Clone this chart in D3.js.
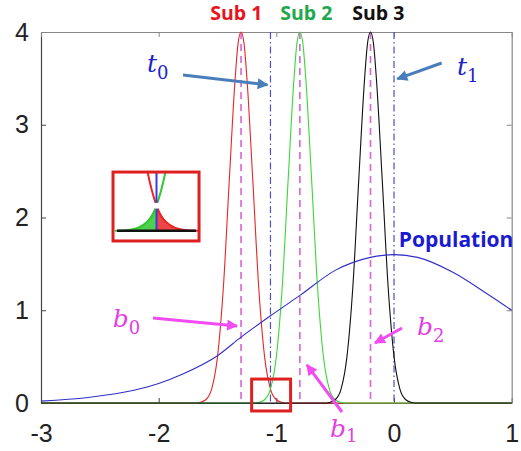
<!DOCTYPE html>
<html>
<head>
<meta charset="utf-8">
<script src="https://cdn.jsdelivr.net/npm/d3@7"></script>
<style>
  body { margin: 0; background: #fff; }
  .tick text { font-family: "Liberation Sans", Arial, sans-serif; font-size: 25px; fill: #222; }
</style>
</head>
<body>
<div id="chart"></div>
<script>
// values
var xTicks = [-3, -2, -1, 0, 1];
var yTicks = [0, 1, 2, 3, 4];

var sub1X = [-3, -1.75, -1.7, -1.65, -1.6, -1.55, -1.5, -1.45, -1.4, -1.35, -1.325, -1.3, -1.275, -1.25, -1.2, -1.15, -1.1, -1.05, -1.0, -0.95, -0.9, -0.85, 1];
var sub1Y = [0, 0, 0, 0.006, 0.035, 0.15, 0.5, 1.25, 2.4, 3.5, 3.88, 4.0, 3.88, 3.5, 2.4, 1.25, 0.5, 0.15, 0.035, 0.006, 0, 0, 0];
var sub2X = [-3, -1.25, -1.2, -1.15, -1.1, -1.05, -1.0, -0.95, -0.9, -0.85, -0.825, -0.8, -0.775, -0.75, -0.7, -0.65, -0.6, -0.55, -0.5, -0.45, -0.4, -0.35, 1];
var sub2Y = [0, 0, 0, 0.006, 0.035, 0.15, 0.5, 1.25, 2.4, 3.5, 3.88, 4.0, 3.88, 3.5, 2.4, 1.25, 0.5, 0.15, 0.035, 0.006, 0, 0, 0];
var sub3X = [-3, -0.65, -0.6, -0.55, -0.5, -0.45, -0.4, -0.35, -0.3, -0.25, -0.225, -0.2, -0.175, -0.15, -0.1, -0.05, 0, 0.05, 0.1, 0.15, 0.2, 0.25, 1];
var sub3Y = [0, 0, 0, 0.006, 0.035, 0.15, 0.5, 1.25, 2.4, 3.5, 3.88, 4.0, 3.88, 3.5, 2.4, 1.25, 0.5, 0.15, 0.035, 0.006, 0, 0, 0];

var popX = [-3, -2.6, -2.2, -2.0, -1.8, -1.5, -1.3, -1.05, -0.8, -0.5, -0.2, 0, 0.2, 0.5, 0.8, 1.0];
var popY = [0.02, 0.06, 0.14, 0.21, 0.31, 0.51, 0.71, 0.94, 1.16, 1.43, 1.57, 1.60, 1.57, 1.41, 1.17, 1.00];

var bLines = [-1.3, -0.8, -0.2];   // b0, b1, b2
var tLines = [-1.05, 0];           // t0, t1
var subNames = ["Sub 1", "Sub 2", "Sub 3"];

var width = 521, height = 451;

var x = d3.scaleLinear().domain([-3, 1]).range([41, 511.7]);
var y = d3.scaleLinear().domain([0, 4]).range([403, 32]);

var svg = d3.select("#chart").append("svg")
    .attr("width", width)
    .attr("height", height);

var defs = svg.append("defs");
function marker(id, color) {
    defs.append("marker")
        .attr("id", id)
        .attr("viewBox", "0 0 10 10")
        .attr("refX", 9).attr("refY", 5)
        .attr("markerUnits", "userSpaceOnUse")
        .attr("markerWidth", 13).attr("markerHeight", 11)
        .attr("orient", "auto")
        .append("path")
        .attr("d", "M0,0 L10,5 L0,10 Z")
        .attr("fill", color);
}
marker("arrBlue", "#4a7ebb");
marker("arrMag", "#f14cf1");

/* axes, MATLAB style box with inward ticks */
var axisColor = "#444";
var plain = d => String(d);
function styleAxis(g, color) {
    g.select(".domain").attr("stroke", color).attr("stroke-width", 1.2);
    g.selectAll(".tick line").attr("stroke", color);
}
svg.append("g")
    .attr("transform", "translate(0," + y(0) + ")")
    .call(d3.axisBottom(x).tickValues(xTicks).tickSizeInner(-5).tickSizeOuter(0).tickPadding(21).tickFormat(plain))
    .call(g => styleAxis(g, axisColor));
svg.append("g")
    .attr("transform", "translate(" + x(-3) + ",0)")
    .call(d3.axisLeft(y).tickValues(yTicks).tickSizeInner(-5).tickSizeOuter(0).tickPadding(12).tickFormat(plain))
    .call(g => styleAxis(g, axisColor));
svg.append("g")
    .attr("transform", "translate(0," + y(4) + ")")
    .call(d3.axisTop(x).tickValues(xTicks).tickSizeInner(-5).tickSizeOuter(0).tickFormat(""))
    .call(g => styleAxis(g, "#888"));
svg.append("g")
    .attr("transform", "translate(" + x(1) + ",0)")
    .call(d3.axisRight(y).tickValues(yTicks).tickSizeInner(-5).tickSizeOuter(0).tickFormat(""))
    .call(g => styleAxis(g, "#888"));

/* vertical reference lines */
svg.selectAll(".bline").data(bLines).enter().append("line")
    .attr("class", "bline")
    .attr("x1", d => x(d)).attr("x2", d => x(d))
    .attr("y1", y(4)).attr("y2", y(0))
    .attr("stroke", "#d862d8").attr("stroke-width", 1.6)
    .attr("stroke-dasharray", "7,5");
svg.selectAll(".tline").data(tLines).enter().append("line")
    .attr("class", "tline")
    .attr("x1", d => x(d)).attr("x2", d => x(d))
    .attr("y1", y(4)).attr("y2", y(0))
    .attr("stroke", "#4f4fc8").attr("stroke-width", 1.2)
    .attr("stroke-dasharray", "7,3,1.5,3");

/* curves */
var line = d3.line()
    .x(d => x(d[0]))
    .y(d => y(d[1]))
    .curve(d3.curveMonotoneX);

var series = [
    { xs: sub1X, ys: sub1Y, color: "#e8262a" },
    { xs: sub2X, ys: sub2Y, color: "#3ad83a" },
    { xs: sub3X, ys: sub3Y, color: "#111" },
    { xs: popX, ys: popY, color: "#3030c8" }
];
svg.append("g").selectAll("path").data(series).enter().append("path")
    .attr("d", s => line(d3.zip(s.xs, s.ys)))
    .attr("fill", "none")
    .attr("stroke", s => s.color)
    .attr("stroke-width", 1.1);

/* sub labels */
var subColors = ["#e8141c", "#22a84c", "#111"];
var subPos = [-1.34, -0.745, -0.133];
svg.selectAll(".sublab").data(subNames).enter().append("text")
    .attr("x", (d, i) => x(subPos[i]))
    .attr("y", 20)
    .attr("text-anchor", "middle")
    .attr("font-family", "'Open Sans', sans-serif")
    .attr("font-weight", "bold")
    .attr("font-size", 19.5)
    .attr("fill", (d, i) => subColors[i])
    .text(d => d);

svg.append("text")
    .attr("x", x(0.04)).attr("y", 247)
    .attr("font-family", "'Open Sans', sans-serif")
    .attr("font-weight", "bold")
    .attr("font-size", 21)
    .attr("fill", "#1a1ad0")
    .text("Population");

/* math labels */
function mathLabel(px, py, base, sub, color, subDy) {
    var t = svg.append("text")
        .attr("x", x(px)).attr("y", y(py))
        .attr("font-family", "'DejaVu Serif', serif")
        .attr("font-style", "italic")
        .attr("font-size", 25)
        .attr("fill", color);
    t.append("tspan").text(base);
    t.append("tspan").attr("dy", subDy || 7).attr("font-size", 18).attr("font-style", "normal").text(sub);
}
mathLabel(-2.10, 3.57, "t", "0", "#1f1fc8");
mathLabel(0.535, 3.54, "t", "1", "#1f1fc8");
mathLabel(-2.39, 0.82, "b", "0", "#e33fe3");
mathLabel(-0.544, -0.37, "b", "1", "#e33fe3", 5);
mathLabel(0.195, 0.733, "b", "2", "#e33fe3");

/* arrows */
function arrow(x1, y1, x2, y2, color, id) {
    svg.append("line")
        .attr("x1", x(x1)).attr("y1", y(y1))
        .attr("x2", x(x2)).attr("y2", y(y2))
        .attr("stroke", color).attr("stroke-width", 3)
        .attr("marker-end", "url(#" + id + ")");
}
arrow(-1.793, 3.536, -1.075, 3.43, "#4a7ebb", "arrBlue");
arrow(0.405, 3.666, 0.028, 3.494, "#4a7ebb", "arrBlue");
arrow(-2.048, 0.916, -1.334, 0.83, "#f14cf1", "arrMag");
arrow(0.068, 0.809, -0.162, 0.647, "#f14cf1", "arrMag");
arrow(-0.442, -0.097, -0.74, 0.41, "#f14cf1", "arrMag");

/* red box around the crossing */
svg.append("rect")
    .attr("x", x(-1.21)).attr("y", y(0.258))
    .attr("width", x(-0.879) - x(-1.21))
    .attr("height", y(-0.086) - y(0.258))
    .attr("fill", "none").attr("stroke", "#e02020").attr("stroke-width", 3);

/* inset: zoom of the crossing */
var ix = d3.scaleLinear().domain([-1.2, -0.9]).range([117, 196]);
var iy = d3.scaleLinear().domain([0, 0.34]).range([230.7, 174]);
defs.append("clipPath").attr("id", "insetClip")
    .append("rect").attr("x", 115).attr("y", 173).attr("width", 83).attr("height", 67);
var inset = svg.append("g").attr("clip-path", "url(#insetClip)");
var iline = d3.line().x(d => ix(d[0])).y(d => iy(d[1])).curve(d3.curveMonotoneX);
var iarea = d3.area().x(d => ix(d[0])).y0(iy(0)).y1(d => iy(d[1])).curve(d3.curveMonotoneX);
var g2 = d3.zip(sub2X, sub2Y).filter(d => d[0] <= tLines[0] && d[0] > -2);
var g1 = d3.zip(sub1X, sub1Y).filter(d => d[0] >= tLines[0] && d[0] < 0);
inset.append("path").attr("d", iarea(g2)).attr("fill", "#2fc92f").attr("opacity", 0.85);
inset.append("path").attr("d", iarea(g1)).attr("fill", "#ea2626").attr("opacity", 0.85);
inset.append("path").attr("d", iline(d3.zip(sub2X, sub2Y))).attr("fill", "none").attr("stroke", "#2fc92f").attr("stroke-width", 2);
inset.append("path").attr("d", iline(d3.zip(sub1X, sub1Y))).attr("fill", "none").attr("stroke", "#ea2626").attr("stroke-width", 2);
inset.append("line")
    .attr("x1", ix(tLines[0])).attr("x2", ix(tLines[0]))
    .attr("y1", 170).attr("y2", iy(0))
    .attr("stroke", "#3a3ae0").attr("stroke-width", 2);
inset.append("line")
    .attr("x1", 117).attr("x2", 196)
    .attr("y1", iy(0)).attr("y2", iy(0))
    .attr("stroke", "#111").attr("stroke-width", 2.5);
inset.append("circle")
    .attr("cx", ix(tLines[0])).attr("cy", iy(0.15))
    .attr("r", 3).attr("fill", "#fff");
svg.append("rect")
    .attr("x", x(-2.388)).attr("y", y(2.49))
    .attr("width", x(-1.657) - x(-2.388))
    .attr("height", y(1.747) - y(2.49))
    .attr("fill", "none").attr("stroke", "#e02020").attr("stroke-width", 3);
</script>
</body>
</html>
